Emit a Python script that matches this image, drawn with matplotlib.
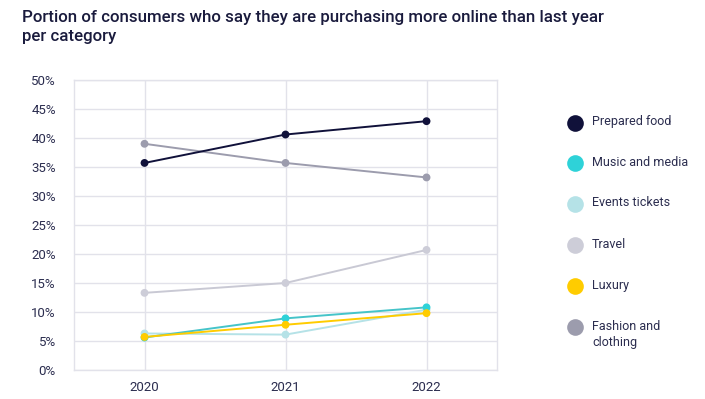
import matplotlib
matplotlib.use("Agg")
import matplotlib.pyplot as plt
from matplotlib.lines import Line2D
from matplotlib.ticker import FuncFormatter

years = ["2020", "2021", "2022"]
series_names = ["Prepared food", "Music and media", "Events tickets", "Travel", "Luxury", "Fashion and\nclothing"]
prepared_food = [35.7, 40.6, 42.9]
music_media = [5.6, 8.9, 10.8]
events_tickets = [6.3, 6.1, 10.4]
travel = [13.3, 15.0, 20.7]
luxury = [5.7, 7.8, 9.8]
fashion = [39.0, 35.7, 33.2]
y_ticks = [0, 5, 10, 15, 20, 25, 30, 35, 40, 45, 50]

line_colors = ["#10113a", "#45c4c9", "#b5e2e7", "#c9c9d4", "#ffcc00", "#9c9cad"]
marker_colors = ["#10113a", "#2ed2d8", "#b5e2e7", "#cdcdd8", "#ffcc00", "#9c9cad"]
values = [prepared_food, music_media, events_tickets, travel, luxury, fashion]

plt.rcParams['font.family'] = ['Roboto', 'DejaVu Sans']
text_color = "#2b2d4f"

fig = plt.figure(figsize=(7.05, 3.99), dpi=100)
ax = fig.add_axes([0.105, 0.0727, 0.600, 0.7268])

x = list(range(len(years)))
order = [3, 2, 5, 1, 4, 0]
for i in order:
    ax.plot(x, values[i], color=line_colors[i], lw=1.4, zorder=3)
    ax.scatter(x, values[i], s=32, color=marker_colors[i], zorder=4, edgecolors='none')

ax.set_xlim(-0.5, 2.5)
ax.set_ylim(0, 50)
ax.set_yticks(y_ticks)
ax.yaxis.set_major_formatter(FuncFormatter(lambda v, p: f"{int(v)}%"))
ax.set_xticks(x)
ax.set_xticklabels(years)
ax.grid(True, color="#e2e2ea", lw=1.0, zorder=0)
ax.set_axisbelow(True)
for s in ax.spines.values():
    s.set_color("#e2e2ea")
    s.set_linewidth(1.0)
ax.tick_params(length=0, colors=text_color, labelsize=9.5)
ax.tick_params(axis='y', pad=13)
ax.tick_params(axis='x', pad=8)

fig.text(22/705, 1 - 10/399, "Portion of consumers who say they are purchasing more online than last year\nper category",
         fontsize=12.2, fontweight='medium', color="#1a1b3d", va='top', ha='left', linespacing=1.35)

leg_y = [123, 163, 204, 245, 286, 327]
for i, name in enumerate(series_names):
    yy = 1 - leg_y[i]/399
    fig.add_artist(Line2D([575/705], [yy], marker='o', markersize=12, color=marker_colors[i],
                          markeredgewidth=0, linestyle='none'))
    if i < 5:
        fig.text(592/705, 1 - (leg_y[i]-1)/399, name, fontsize=9, color=text_color,
                 va='center', ha='left')
    else:
        fig.text(592/705, 1 - (leg_y[i]-7)/399, name, fontsize=9, color=text_color,
                 va='top', ha='left', linespacing=1.3)

fig.savefig("out.png", dpi=100, facecolor='white')
